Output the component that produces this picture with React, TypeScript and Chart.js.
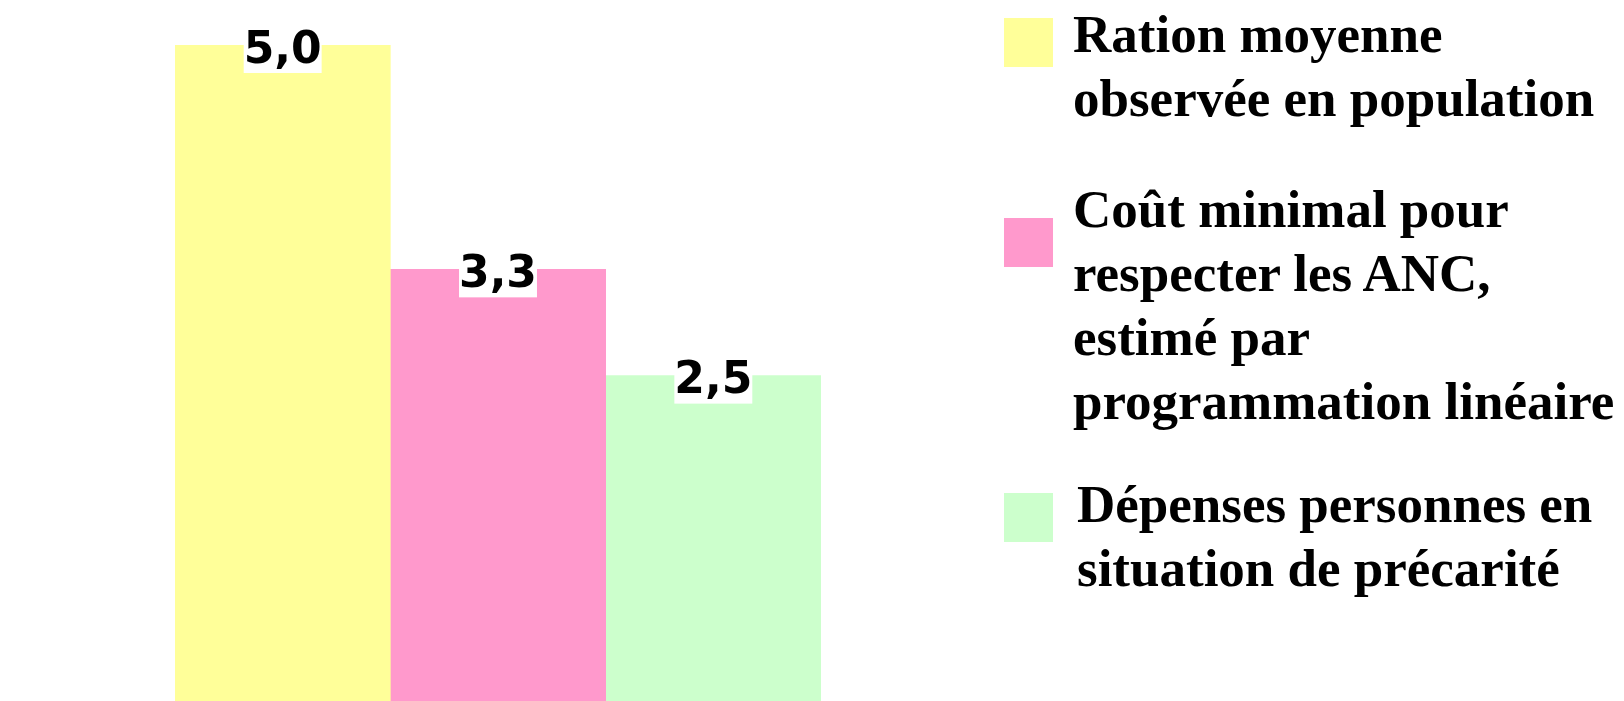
import React, { useEffect, useRef } from "react";
import { Chart, registerables } from "chart.js";

Chart.register(...registerables);

const categories = [""];
const seriesNames = [
  ["Ration moyenne", "observée en population"],
  ["Coût minimal pour", "respecter les ANC,", "estimé par", "programmation linéaire"],
  ["Dépenses personnes en", "situation de précarité"],
];
const seriesValues = [[5.0], [3.29], [2.48]];
const seriesColors = ["#FFFF99", "#FF99CC", "#CCFFCC"];

const W = 1624;
const H = 701;

// legend layout (styles only)
const legendTextTops = [2, 177, 472];
const legendSquareTops = [18, 218, 493];
const legendTextLefts = [1073, 1073, 1077];

const labelPlugin = {
  id: "valueLabels",
  afterDatasetsDraw(chart: any) {
    const ctx = chart.ctx;
    ctx.save();
    ctx.font = "bold 44px 'DejaVu Sans'";
    ctx.textAlign = "center";
    ctx.textBaseline = "alphabetic";
    chart.data.datasets.forEach((ds: any, i: number) => {
      const meta = chart.getDatasetMeta(i);
      meta.data.forEach((bar: any, j: number) => {
        const v = ds.data[j];
        const txt = v.toFixed(1).replace(".", ",");
        const w = ctx.measureText(txt).width;
        const x = bar.x;
        const y = bar.y;
        ctx.fillStyle = "#FFFFFF";
        ctx.fillRect(x - w / 2, y - 25, w, 53);
        ctx.fillStyle = "#000000";
        ctx.fillText(txt, x, y + 17.5);
      });
    });
    ctx.restore();
  },
};

export default function App() {
  const ref = useRef<HTMLCanvasElement | null>(null);
  useEffect(() => {
    if (!ref.current) return;
    const chart = new Chart(ref.current, {
      type: "bar",
      data: {
        labels: categories,
        datasets: seriesValues.map((vals, i) => ({
          label: seriesNames[i].join(" "),
          data: vals,
          backgroundColor: seriesColors[i],
          borderWidth: 0,
          categoryPercentage: 1,
          barPercentage: 1,
        })),
      },
      options: {
        responsive: false,
        animation: false,
        layout: { padding: { left: 175, right: W - 821, top: 45, bottom: 0 } },
        plugins: { legend: { display: false }, tooltip: { enabled: false } },
        scales: {
          x: { display: false, grid: { display: false } },
          y: { display: false, min: 0, max: 5, grid: { display: false } },
        },
      },
      plugins: [labelPlugin],
    });
    return () => chart.destroy();
  }, []);

  return (
    <div style={{ position: "absolute", left: 0, top: 0, width: W, height: H, background: "#fff", overflow: "hidden" }}>
      <canvas ref={ref} width={W} height={H} style={{ position: "absolute", left: 0, top: 0 }} />
      {seriesNames.map((lines, i) => (
        <React.Fragment key={i}>
          <div
            style={{
              position: "absolute",
              left: 1004,
              top: legendSquareTops[i],
              width: 49,
              height: 49,
              background: seriesColors[i],
            }}
          />
          <div
            style={{
              position: "absolute",
              left: legendTextLefts[i],
              top: legendTextTops[i],
              fontFamily: "'Liberation Serif', 'Times New Roman', serif",
              fontWeight: "bold",
              fontSize: 53,
              lineHeight: "64px",
              color: "#000",
              whiteSpace: "nowrap",
            }}
          >
            {lines.map((l, k) => (
              <div key={k}>{l}</div>
            ))}
          </div>
        </React.Fragment>
      ))}
    </div>
  );
}
